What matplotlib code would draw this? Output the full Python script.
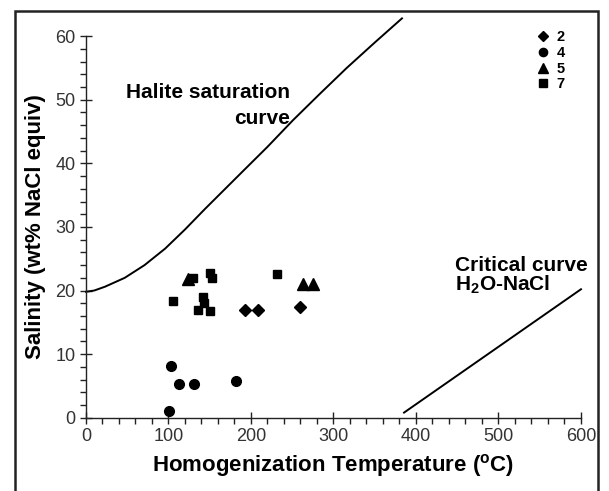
import numpy as np
import matplotlib
matplotlib.use("Agg")
import matplotlib.pyplot as plt
from matplotlib.patches import Rectangle

plt.rcParams['font.family'] = ['Liberation Sans', 'DejaVu Sans']
plt.rcParams['mathtext.fontset'] = 'custom'
plt.rcParams['mathtext.rm'] = 'Liberation Sans'
plt.rcParams['mathtext.bf'] = 'Liberation Sans:bold'

# Fluid inclusion data (Th, salinity) per sample
t_2 = [192.7, 208.1, 259.8]
s_2 = [17.0, 17.0, 17.4]
t_4 = [100.6, 103.0, 113.1, 131.3, 181.4]
s_4 = [1.1, 8.2, 5.25, 5.25, 5.7]
t_5 = [124.0, 263.4, 274.8]
s_5 = [21.8, 21.1, 21.1]
t_7 = [105.5, 130.1, 150.3, 153.1, 142.2, 143.0, 136.1, 150.3, 231.1]
s_7 = [18.4, 21.9, 22.7, 21.9, 19.0, 18.1, 17.0, 16.8, 22.6]

# Halite saturation curve
halite_t = [0, 10, 23, 47, 71, 96, 120, 144, 168, 192, 220, 251, 284, 316, 350, 383]
halite_s = [19.8, 20.0, 20.6, 22.0, 24.0, 26.6, 29.6, 32.8, 35.9, 39.0, 42.6, 46.8,
            51.0, 55.0, 59.0, 62.8]

# Critical curve H2O-NaCl
crit_t = [385.5, 600]
crit_s = [0.8, 20.2]

fig = plt.figure(figsize=(6.09, 4.91), dpi=100)
ax = fig.add_axes([0.1412, 0.1493, 0.8128, 0.777])

ax.plot(halite_t, halite_s, color='black', lw=1.4, clip_on=False)
ax.plot(crit_t, crit_s, color='black', lw=1.4, clip_on=False)

ax.plot(t_2, s_2, 'D', color='black', ms=6.5, ls='none', label='2')
ax.plot(t_4, s_4, 'o', color='black', ms=7, ls='none', label='4')
ax.plot(t_5, s_5, '^', color='black', ms=8, ls='none', label='5')
ax.plot(t_7, s_7, 's', color='black', ms=6, ls='none', label='7')

ax.set_xlim(0, 600)
ax.set_ylim(0, 60)
ax.set_xticks(np.arange(0, 601, 100))
ax.set_yticks(np.arange(0, 61, 10))
ax.set_xticks(np.arange(0, 601, 20), minor=True)
ax.set_yticks(np.arange(0, 61, 2), minor=True)
ax.spines['top'].set_visible(False)
ax.spines['right'].set_visible(False)
for sp in ['left', 'bottom']:
    ax.spines[sp].set_linewidth(1.0)
    ax.spines[sp].set_color('#222222')
ax.tick_params(which='major', direction='inout', length=9, width=1.0,
               labelsize=13, labelcolor='#333333', color='#222222', pad=3)
ax.tick_params(which='minor', direction='out', length=4, width=1.0, color='#222222')

ax.set_xlabel('Homogenization Temperature ($^{\\mathbf{o}}$C)', fontsize=16,
              fontweight='bold', labelpad=5)
ax.set_ylabel('Salinity (wt% NaCl equiv)', fontsize=16, fontweight='bold', labelpad=7)

ax.text(247, 51.2, 'Halite saturation', fontsize=15, fontweight='bold',
        ha='right', va='center')
ax.text(247, 47.1, 'curve', fontsize=15, fontweight='bold', ha='right', va='center')
ax.text(447, 24.0, 'Critical curve', fontsize=15, fontweight='bold',
        ha='left', va='center')
ax.text(447, 20.9, 'H$_{\\mathbf{2}}$O-NaCl', fontsize=15, fontweight='bold',
        ha='left', va='center')

leg = ax.legend(loc='upper left', bbox_to_anchor=(0.897, 1.035), frameon=False,
                prop={'weight': 'bold', 'size': 10.5}, handlelength=0.8,
                handletextpad=0.5, labelspacing=0.12, borderpad=0, markerscale=0.85)

fig.patches.append(Rectangle((15 / 609, -0.01), (598 - 15) / 609, 1 - 11 / 491 + 0.01,
                             transform=fig.transFigure, fill=False,
                             edgecolor='#222222', lw=1.8))

fig.savefig('out.png', dpi=100)
